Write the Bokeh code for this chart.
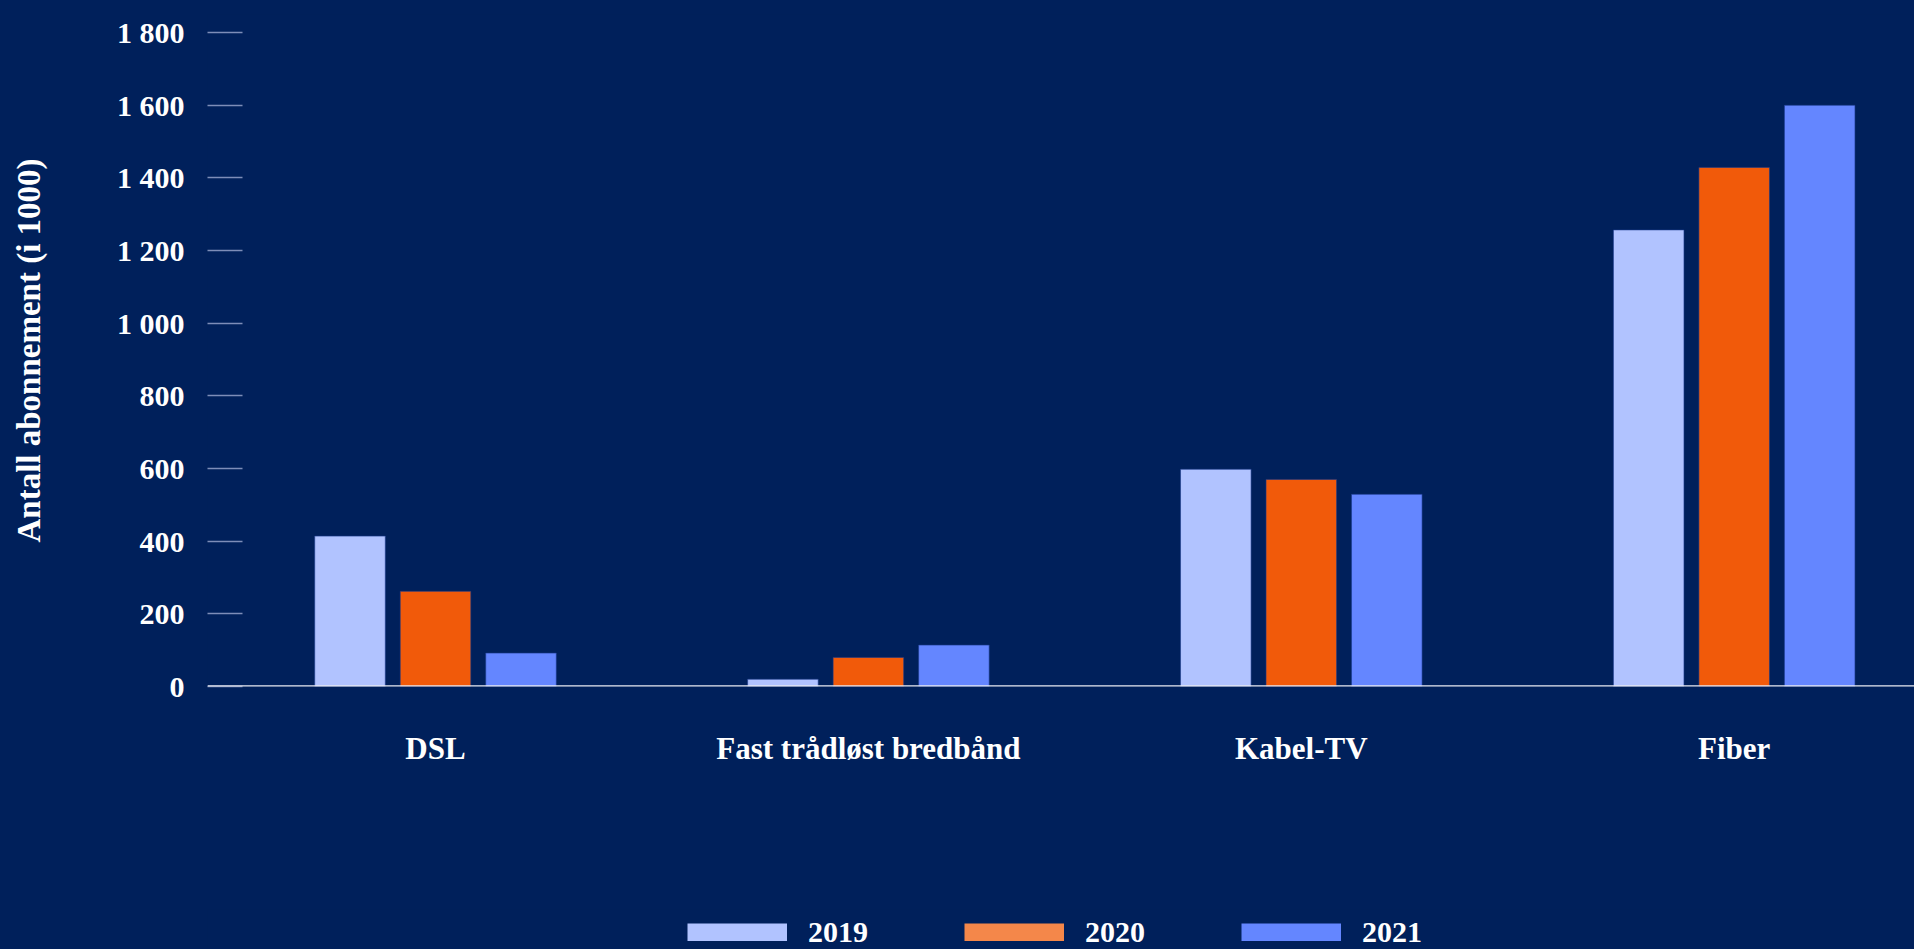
from bokeh.plotting import figure
from bokeh.layouts import column
from bokeh.models import Range1d, FixedTicker, Span, Legend, LegendItem, ColumnDataSource
from bokeh.transform import dodge
from bokeh.embed import file_html
from bokeh.resources import INLINE

categories = ["DSL", "Fast trådløst bredbånd", "Kabel-TV", "Fiber"]
years = ["2019", "2020", "2021"]
v2019 = [414, 20, 598, 1257]
v2020 = [262, 80, 570, 1429]
v2021 = [92, 114, 529, 1600]
y_ticks = [0, 200, 400, 600, 800, 1000, 1200, 1400, 1600, 1800]
y_tick_labels = ["0", "200", "400", "600", "800", "1 000", "1 200", "1 400", "1 600", "1 800"]

BG = "#00205B"
bar_colors = ["#B1C3FF", "#F15A0A", "#6486FF"]
legend_colors = ["#B1C3FF", "#F4874A", "#6486FF"]
FONT = "Liberation Serif"

src = ColumnDataSource(dict(
    x=list(range(len(categories))),
    v2019=v2019, v2020=v2020, v2021=v2021,
))

p = figure(
    width=1914, height=909,
    x_range=Range1d(-0.5267, 3.4165), y_range=Range1d(0, 1850),
    output_backend="svg", toolbar_location=None,
    min_border_left=207, min_border_right=0, min_border_top=14, min_border_bottom=223,
    background_fill_color=BG, border_fill_color=BG, outline_line_color=None,
)
p.styles = {"background-color": BG}
p.grid.visible = False

off = 0.1975
w = 0.163
for i, (col, c) in enumerate(zip(["v2019", "v2020", "v2021"], bar_colors)):
    p.vbar(x=dodge("x", (i - 1) * off), top=col, width=w, bottom=0, source=src,
           fill_color=c, line_color="#1a3a8a", line_alpha=0.6, line_width=1)

p.add_layout(Span(location=0, dimension="width", line_color="#E8EAF2", line_width=2.5))

# y axis
ya = p.yaxis[0]
ya.ticker = FixedTicker(ticks=y_ticks)
ya.major_label_overrides = {t: l for t, l in zip(y_ticks, y_tick_labels)}
ya.axis_line_color = None
ya.major_tick_in = 35
ya.major_tick_out = 0
ya.major_tick_line_color = "#7D8DB8"
ya.major_tick_line_width = 1.5
ya.minor_tick_line_color = None
ya.major_label_standoff = 23
ya.major_label_text_font = FONT
ya.major_label_text_font_style = "bold"
ya.major_label_text_font_size = "30px"
ya.major_label_text_color = "#FFFFFF"
ya.axis_label = "Antall abonnement (i 1000)"
ya.axis_label_text_font = FONT
ya.axis_label_text_font_style = "bold"
ya.axis_label_text_font_size = "33px"
ya.axis_label_text_color = "#FFFFFF"
ya.axis_label_standoff = 67

# x axis
xa = p.xaxis[0]
xa.ticker = FixedTicker(ticks=list(range(len(categories))))
xa.major_label_overrides = {i: c for i, c in enumerate(categories)}
xa.axis_line_color = None
xa.major_tick_line_color = None
xa.minor_tick_line_color = None
xa.major_tick_out = 0
xa.major_tick_in = 0
xa.major_label_standoff = 44
xa.major_label_text_font = FONT
xa.major_label_text_font_style = "bold"
xa.major_label_text_font_size = "31px"
xa.major_label_text_color = "#FFFFFF"

# legend strip
p2 = figure(
    width=1914, height=40, x_range=Range1d(0, 1), y_range=Range1d(0, 1),
    output_backend="svg", toolbar_location=None,
    x_axis_location=None, y_axis_location=None,
    min_border=0, background_fill_color=BG, border_fill_color=BG, outline_line_color=None,
)
p2.styles = {"background-color": BG}
p2.grid.visible = False

nan = float("nan")
items = []
for yr, c in zip(years, legend_colors):
    r = p2.line(x=[nan, nan], y=[nan, nan], line_color=c, line_width=18)
    items.append(LegendItem(label=yr, renderers=[r]))

leg = Legend(
    items=items, orientation="horizontal", location=(480, 0),
    glyph_width=100, glyph_height=18, label_standoff=21, spacing=90,
    label_width=66, margin=0, padding=0, border_line_color=None,
    background_fill_alpha=0,
    label_text_font=FONT, label_text_font_style="bold",
    label_text_font_size="30px", label_text_color="#FFFFFF",
)
p2.add_layout(leg, "center")

layout = column(p, p2, spacing=0)
layout.styles = {"background-color": BG}
open("out.html", "w").write(file_html(layout, INLINE))
